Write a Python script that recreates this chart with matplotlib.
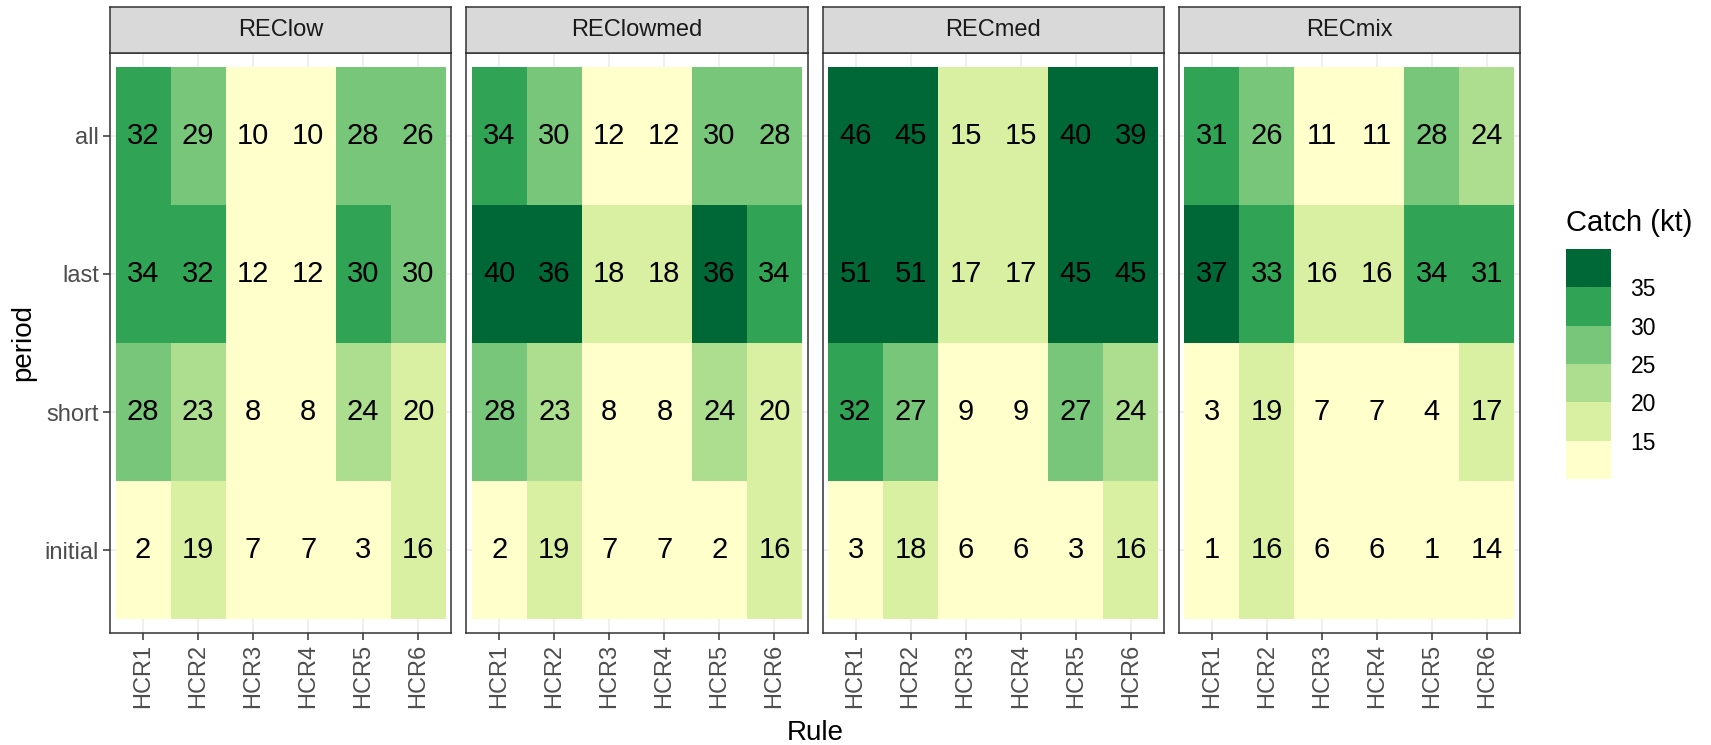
import matplotlib
matplotlib.use('Agg')
import matplotlib.pyplot as plt
import numpy as np
from matplotlib.colors import ListedColormap, BoundaryNorm

plt.rcParams['font.family'] = ['Liberation Sans', 'DejaVu Sans']

scenarios = ['REClow', 'REClowmed', 'RECmed', 'RECmix']
rules = ['HCR1', 'HCR2', 'HCR3', 'HCR4', 'HCR5', 'HCR6']
periods = ['initial', 'short', 'last', 'all']  # bottom -> top

# catch per scenario, rows: all, last, short, initial
catch_REClow = [[32.1, 28.9, 10.2, 10.2, 28.1, 26.2],
                [34.1, 31.8, 12.1, 12.1, 30.2, 29.6],
                [28.1, 22.9, 7.9, 7.9, 23.8, 19.8],
                [2.1, 18.9, 7.1, 7.1, 2.9, 16.1]]
catch_REClowmed = [[33.9, 29.7, 12.1, 12.1, 29.8, 27.9],
                   [40.1, 36.2, 17.9, 17.9, 35.9, 34.1],
                   [28.2, 23.1, 8.1, 8.1, 23.9, 19.7],
                   [2.1, 18.9, 7.1, 7.1, 2.1, 16.1]]
catch_RECmed = [[46.1, 44.9, 15.3, 15.3, 40.2, 38.9],
                [51.1, 50.9, 17.1, 17.1, 45.2, 44.9],
                [32.1, 27.2, 9.1, 9.1, 26.9, 23.8],
                [3.1, 18.2, 6.1, 6.1, 2.9, 15.9]]
catch_RECmix = [[31.2, 26.1, 11.1, 11.1, 27.9, 24.1],
                [37.2, 33.1, 16.1, 16.1, 34.2, 30.9],
                [3.1, 18.9, 7.1, 7.1, 4.2, 17.1],
                [1.1, 15.9, 6.1, 6.1, 1.1, 14.2]]
row_order = ['all', 'last', 'short', 'initial']
all_catch = [catch_REClow, catch_REClowmed, catch_RECmed, catch_RECmix]

breaks = [15, 20, 25, 30, 35]
colors = ['#ffffcc', '#d9f0a3', '#addd8e', '#78c679', '#31a354', '#006837']
cmap = ListedColormap(colors)
bounds = [-1000] + breaks + [1000]
norm = BoundaryNorm(bounds, cmap.N)

W, H = 1711, 745
fig = plt.figure(figsize=(W / 100, H / 100), dpi=100)

def fx(px): return px / W
def fy(py): return 1 - py / H

dark = '#333333'
left0, right0, gap = 110, 1520, 15
pw = (right0 - left0 - 3 * gap) / 4
ptop, pbot, stop = 53, 633, 7

for k, (scen, vals) in enumerate(zip(scenarios, all_catch)):
    x0 = left0 + k * (pw + gap)
    ax = fig.add_axes([fx(x0), fy(pbot), pw / W, (pbot - ptop) / H])
    grid = np.zeros((len(periods), len(rules)))
    for r, name in enumerate(row_order):
        grid[periods.index(name)] = vals[r]
    xe = np.arange(len(rules) + 1) - 0.5
    ye = np.arange(len(periods) + 1) - 0.5
    ax.pcolormesh(xe, ye, grid, cmap=cmap, norm=norm, edgecolors='none', antialiased=False, zorder=2)
    for i in range(len(periods)):
        for j in range(len(rules)):
            ax.text(j, i, f"{grid[i, j]:.0f}", ha='center', va='center', fontsize=21, color='black', zorder=3)
    ax.set_xlim(-0.6, len(rules) - 0.4)
    ax.set_ylim(-0.6, len(periods) - 0.4)
    ax.set_xticks(range(len(rules)))
    ax.set_xticklabels(rules, rotation=90, fontsize=17, color='#4d4d4d')
    ax.set_yticks(range(len(periods)))
    ax.tick_params(axis='both', length=5, width=1.1, color=dark, pad=3)
    if k == 0:
        ax.set_yticklabels(periods, fontsize=17, color='#4d4d4d')
    else:
        ax.set_yticklabels([])
        ax.tick_params(axis='y', length=0)
    ax.grid(True, color='#ebebeb', linewidth=1.1, zorder=0)
    ax.set_axisbelow(True)
    for sp in ax.spines.values():
        sp.set_color(dark)
        sp.set_linewidth(1.1)

    # facet strip
    sax = fig.add_axes([fx(x0), fy(ptop), pw / W, (ptop - stop) / H])
    sax.set_facecolor('#d9d9d9')
    sax.set_xticks([])
    sax.set_yticks([])
    for sp in sax.spines.values():
        sp.set_color(dark)
        sp.set_linewidth(1.1)
    sax.text(0.5, 0.5, scen, ha='center', va='center', fontsize=17, color='#1a1a1a', transform=sax.transAxes)

fig.text(fx(815), fy(733), 'Rule', ha='center', va='center', fontsize=20)
fig.text(fx(23), fy(343), 'period', ha='center', va='center', fontsize=20, rotation=90)

# stepped legend
cax = fig.add_axes([fx(1566), fy(479), 45 / W, (479 - 249) / H])
lb = [10] + breaks + [40]
cb = matplotlib.colorbar.ColorbarBase(cax, cmap=cmap, norm=BoundaryNorm(lb, cmap.N),
                                      boundaries=lb, spacing='uniform', ticks=breaks)
cb.outline.set_visible(False)
cax.minorticks_off()
cax.tick_params(which='both', length=0, labelsize=16.5, pad=14)
cax.set_yticklabels([str(b) for b in breaks])
fig.text(fx(1566), fy(223), 'Catch (kt)', ha='left', va='center', fontsize=21)

fig.savefig('out.png', dpi=100)
